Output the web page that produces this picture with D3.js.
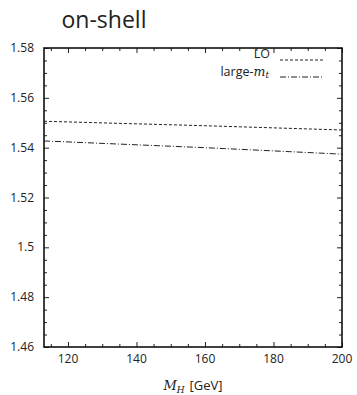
<!DOCTYPE html>
<html>
<head>
<meta charset="utf-8">
<script src="https://cdn.jsdelivr.net/npm/d3@7"></script>
<style>
  body { margin: 0; background: #fff; }
  svg text { font-family: "Open Sans", sans-serif; fill: #222; }
</style>
</head>
<body>
<div id="chart"></div>
<script>
const SIZE = { width: 357, height: 395 }
const MARGIN = { top: 48, right: 15, bottom: 48, left: 44 }

// values
const mH = [113, 160, 200]
const lo = [1.5506, 1.5488, 1.5471]
const largeMt = [1.5427, 1.5400, 1.5374]
const xTicks = [120, 140, 160, 180, 200]
const yTicks = [1.46, 1.48, 1.5, 1.52, 1.54, 1.56, 1.58]
const yTickLabels = ['1.46', '1.48', '1.5', '1.52', '1.54', '1.56', '1.58']

const W = SIZE.width - MARGIN.left - MARGIN.right
const H = SIZE.height - MARGIN.top - MARGIN.bottom

const svg = d3.select('#chart')
  .append('svg')
  .attr('width', SIZE.width)
  .attr('height', SIZE.height)

svg.append('text')
  .attr('x', 104)
  .attr('y', 28)
  .attr('text-anchor', 'middle')
  .style('font-size', '23px')
  .text('on-shell')

const g = svg.append('g')
  .attr('transform', `translate(${MARGIN.left},${MARGIN.top})`)

const x = d3.scaleLinear().domain([113, 200]).range([0, W])
const y = d3.scaleLinear().domain([1.46, 1.58]).range([H, 0])

const minorX = d3.range(115, 200, 5).filter(v => v % 20 !== 0)
const minorY = d3.range(146, 158, 0.5).map(v => v / 100).filter(v => Math.round(v * 1000) % 20 !== 0)

function ticks (axisFn, values, len, transform) {
  return g.append('g')
    .attr('transform', transform)
    .call(axisFn.tickValues(values).tickSize(len).tickFormat(''))
    .call(s => s.select('.domain').remove())
    .call(s => s.selectAll('line').attr('stroke', '#222'))
}

// major + minor ticks, inward, all four sides
ticks(d3.axisBottom(x), xTicks, -5, `translate(0,${H})`)
ticks(d3.axisBottom(x), minorX, -3, `translate(0,${H})`)
ticks(d3.axisTop(x), xTicks, -5, 'translate(0,0)')
ticks(d3.axisTop(x), minorX, -3, 'translate(0,0)')
ticks(d3.axisLeft(y), yTicks, -5, 'translate(0,0)')
ticks(d3.axisLeft(y), minorY, -3, 'translate(0,0)')
ticks(d3.axisRight(y), yTicks, -5, `translate(${W},0)`)
ticks(d3.axisRight(y), minorY, -3, `translate(${W},0)`)

g.selectAll('.xlab')
  .data(xTicks)
  .enter()
  .append('text')
  .attr('x', d => x(d))
  .attr('y', H + 16)
  .attr('text-anchor', 'middle')
  .style('font-size', '12px')
  .text(d => d)

g.selectAll('.ylab')
  .data(yTicks)
  .enter()
  .append('text')
  .attr('x', -10)
  .attr('y', d => y(d) + 4)
  .attr('text-anchor', 'end')
  .style('font-size', '12px')
  .text((d, i) => yTickLabels[i])

g.append('rect')
  .attr('width', W)
  .attr('height', H)
  .attr('fill', 'none')
  .attr('stroke', '#111')
  .attr('stroke-width', 1.6)

const line = d3.line().x(d => x(d[0])).y(d => y(d[1]))

const series = [
  { name: 'LO', values: lo, dash: '3,2' },
  { name: 'large', values: largeMt, dash: '6,2,1,2' },
]

series.forEach(s => {
  g.append('path')
    .datum(mH.map((m, i) => [m, s.values[i]]))
    .attr('d', line)
    .attr('fill', 'none')
    .attr('stroke', '#222')
    .attr('stroke-width', 1)
    .attr('stroke-dasharray', s.dash)
})

// legend
const leg = g.append('g')
leg.append('text')
  .attr('x', 226).attr('y', 9.5)
  .attr('text-anchor', 'end')
  .style('font-size', '12.5px')
  .text('LO')
leg.append('line')
  .attr('x1', 236).attr('x2', 279).attr('y1', 12).attr('y2', 12)
  .attr('stroke', '#222').attr('stroke-dasharray', '3,2')

const lt = leg.append('text')
  .attr('x', 225).attr('y', 27.5)
  .attr('text-anchor', 'end')
  .style('font-size', '12.5px')
lt.append('tspan').text('large-')
lt.append('tspan').style('font-family', '"DejaVu Serif", serif').style('font-style', 'italic').text('m')
lt.append('tspan').attr('dy', 2).style('font-size', '9px').style('font-family', '"DejaVu Serif", serif').style('font-style', 'italic').text('t')
leg.append('line')
  .attr('x1', 236).attr('x2', 279).attr('y1', 29).attr('y2', 29)
  .attr('stroke', '#222').attr('stroke-dasharray', '6,2,1,2')

// x axis title
const xt = svg.append('text')
  .attr('x', MARGIN.left + W / 2)
  .attr('y', 390)
  .attr('text-anchor', 'middle')
  .style('font-size', '13px')
xt.append('tspan').style('font-family', '"DejaVu Serif", serif').style('font-style', 'italic').text('M')
xt.append('tspan').attr('dy', 3).style('font-size', '9px').style('font-family', '"DejaVu Serif", serif').style('font-style', 'italic').text('H')
xt.append('tspan').attr('dy', -3).attr('dx', 5).text('[GeV]')
</script>
</body>
</html>
